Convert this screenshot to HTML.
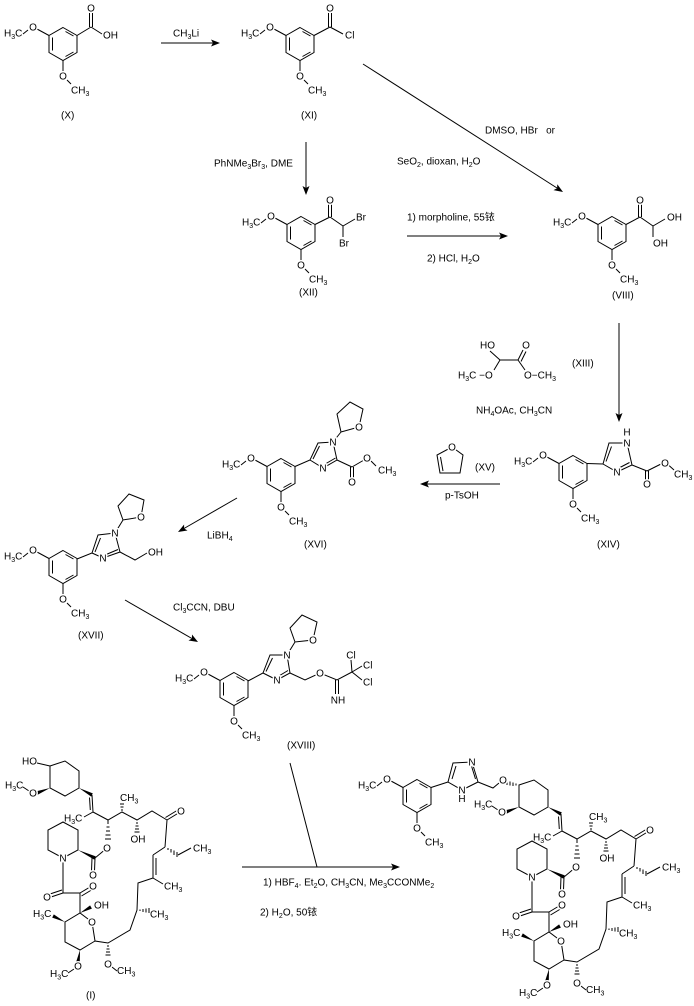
<!DOCTYPE html>
<html><head><meta charset="utf-8"><style>
html,body{margin:0;padding:0;background:#fff}
svg{display:block}
.l{stroke:#000;stroke-width:1;fill:none}
.f{fill:#000;stroke:none}
.w{fill:#fff;stroke:none}
text{font-family:"Liberation Sans","Noto Sans CJK SC",Arial,sans-serif;font-size:10px;fill:#000;stroke:none}
.a{text-anchor:middle;stroke:#fff;stroke-width:3px;paint-order:stroke;stroke-linejoin:round}
.s{font-size:7px}
</style></head><body>
<svg width="694" height="1006" viewBox="0 0 694 1006" xmlns="http://www.w3.org/2000/svg">
<rect width="694" height="1006" fill="#fff"/>

<!-- ===== X ===== -->
<g transform="translate(63,44)">
<path class="l" d="M0,-16.5L14,-8.5L14,8.5L0,16.5L-14,8.5L-14,-8.5Z M-10.5,-6.5V6.5 M2.5,-12.5L10.5,-8 M10.5,8L2.5,12.5 M-14,-8.5L-26,-15 M0,16.5V28 M4,36L8,40 M-35,-14L-40,-10"/>
<text class="a" x="-30" y="-13.4">O</text>
<text x="-59" y="-7.4">H<tspan class="s" dy="2.5">3</tspan><tspan dy="-2.5">C</tspan></text>
<text class="a" x="0" y="35.6">O</text>
<text x="8" y="49.6">CH<tspan class="s" dy="2.5">3</tspan></text>
</g>
<path class="l" d="M77,35.5L91,27 M89.5,27V13 M92.5,27V13 M91,27L102,34"/>
<text class="a" x="91" y="11.6">O</text>
<text x="103" y="38.6">OH</text>
<text x="61" y="118.6">(X)</text>

<!-- arrow X->XI -->
<path class="l" d="M161,43H214"/>
<polygon class="f" points="220,43 211,39.5 213,43 211,46.5"/>
<text x="173" y="36.6">CH<tspan class="s" dy="2.5">3</tspan><tspan dy="-2.5">Li</tspan></text>

<!-- ===== XI ===== -->
<g transform="translate(300,44)">
<path class="l" d="M0,-16.5L14,-8.5L14,8.5L0,16.5L-14,8.5L-14,-8.5Z M-10.5,-6.5V6.5 M2.5,-12.5L10.5,-8 M10.5,8L2.5,12.5 M-14,-8.5L-26,-15 M0,16.5V28 M4,36L8,40 M-35,-14L-40,-10"/>
<text class="a" x="-30" y="-13.4">O</text>
<text x="-59" y="-7.4">H<tspan class="s" dy="2.5">3</tspan><tspan dy="-2.5">C</tspan></text>
<text class="a" x="0" y="35.6">O</text>
<text x="8" y="49.6">CH<tspan class="s" dy="2.5">3</tspan></text>
</g>
<path class="l" d="M314,35.5L330,27 M328.5,27V13 M331.5,27V13 M330,27L343,34"/>
<text class="a" x="330" y="11.6">O</text>
<text x="345" y="38.6">Cl</text>
<text x="301" y="118.6">(XI)</text>

<!-- diagonal arrow XI->VIII -->
<path class="l" d="M363,64L557,188"/>
<polygon class="f" points="563,192 553.5,190.1 557.1,188.2 557.3,184.2"/>
<text x="485" y="133.6">DMSO, HBr&#160;&#160;&#160;or</text>
<text x="397" y="164.6">SeO<tspan class="s" dy="2.5">2</tspan><tspan dy="-2.5">, dioxan, H</tspan><tspan class="s" dy="2.5">2</tspan><tspan dy="-2.5">O</tspan></text>

<!-- vertical arrow XI->XII -->
<path class="l" d="M306,142V188"/>
<polygon class="f" points="306,195 302.5,186 306,188 309.5,186"/>
<text x="214" y="166.6">PhNMe<tspan class="s" dy="2.5">3</tspan><tspan dy="-2.5">Br</tspan><tspan class="s" dy="2.5">3</tspan><tspan dy="-2.5">, DME</tspan></text>

<!-- ===== XII ===== -->
<g transform="translate(301,233)">
<path class="l" d="M0,-16.5L14,-8.5L14,8.5L0,16.5L-14,8.5L-14,-8.5Z M-10.5,-6.5V6.5 M2.5,-12.5L10.5,-8 M10.5,8L2.5,12.5 M-14,-8.5L-26,-15 M0,16.5V28 M4,36L8,40 M-35,-14L-40,-10"/>
<text class="a" x="-30" y="-13.4">O</text>
<text x="-59" y="-7.4">H<tspan class="s" dy="2.5">3</tspan><tspan dy="-2.5">C</tspan></text>
<text class="a" x="0" y="35.6">O</text>
<text x="8" y="49.6">CH<tspan class="s" dy="2.5">3</tspan></text>
</g>
<path class="l" d="M315,224.5L330,217 M328.5,217V203 M331.5,217V203 M330,217L343,226 M343,226L355,219 M343,226V237"/>
<text class="a" x="330" y="203.6">O</text>
<text x="356" y="220.6">Br</text>
<text x="339" y="246.6">Br</text>
<text x="299" y="295.6">(XII)</text>

<!-- arrow XII->VIII -->
<path class="l" d="M407,236H502"/>
<polygon class="f" points="508,236 499,232.5 501,236 499,239.5"/>
<text x="407" y="220.6">1) morpholine, 55铱</text>
<text x="427" y="261.6">2) HCl, H<tspan class="s" dy="2.5">2</tspan><tspan dy="-2.5">O</tspan></text>

<!-- ===== VIII ===== -->
<g transform="translate(612,233)">
<path class="l" d="M0,-16.5L14,-8.5L14,8.5L0,16.5L-14,8.5L-14,-8.5Z M-10.5,-6.5V6.5 M2.5,-12.5L10.5,-8 M10.5,8L2.5,12.5 M-14,-8.5L-26,-15 M0,16.5V28 M4,36L8,40 M-35,-14L-40,-10"/>
<text class="a" x="-30" y="-13.4">O</text>
<text x="-59" y="-7.4">H<tspan class="s" dy="2.5">3</tspan><tspan dy="-2.5">C</tspan></text>
<text class="a" x="0" y="35.6">O</text>
<text x="8" y="49.6">CH<tspan class="s" dy="2.5">3</tspan></text>
</g>
<path class="l" d="M626,224.5L640,217 M638.5,217V203 M641.5,217V203 M640,217L653,226 M653,226L665,219 M653,226V237"/>
<text class="a" x="640" y="203.6">O</text>
<text x="667" y="220.6">OH</text>
<text x="653" y="246.6">OH</text>
<text x="612" y="298.6">(VIII)</text>

<!-- arrow VIII->XIV -->
<path class="l" d="M619,323V415"/>
<polygon class="f" points="619,422 615.5,413 619,415 622.5,413"/>

<!-- XIII -->
<path class="l" d="M490,351L500,360L518,360 M518,360L523,350 M521,361.5L526,351.5 M500,360L494,370 M518,360L525,370"/>
<text x="480" y="348.6">HO</text>
<text class="a" x="526" y="348.6">O</text>
<text x="458" y="378.6">H<tspan class="s" dy="2.5">3</tspan><tspan dy="-2.5">C −O</tspan></text>
<text x="524" y="378.6">O−CH<tspan class="s" dy="2.5">3</tspan></text>
<text x="572" y="366.6">(XIII)</text>
<text x="476" y="413.6">NH<tspan class="s" dy="2.5">4</tspan><tspan dy="-2.5">OAc, CH</tspan><tspan class="s" dy="2.5">3</tspan><tspan dy="-2.5">CN</tspan></text>

<!-- ===== XIV ===== -->
<g transform="translate(573,472)">
<path class="l" d="M0,-16.5L14,-8.5L14,8.5L0,16.5L-14,8.5L-14,-8.5Z M-10.5,-6.5V6.5 M2.5,-12.5L10.5,-8 M10.5,8L2.5,12.5 M-14,-8.5L-26,-15 M0,16.5V28 M4,36L8,40 M-35,-14L-40,-10"/>
<text class="a" x="-30" y="-13.4">O</text>
<text x="-59" y="-7.4">H<tspan class="s" dy="2.5">3</tspan><tspan dy="-2.5">C</tspan></text>
<text class="a" x="0" y="35.6">O</text>
<text x="8" y="49.6">CH<tspan class="s" dy="2.5">3</tspan></text>
</g>
<path class="l" d="M587,463.5L603,464L609,443L627,443L632,465L617,472L603,464 M606,461.5L611.5,446.5 M629.5,462.5L619,468 M632,465L647,471 M645.5,471V481 M648.5,471V481 M647,471L661,464 M669,465.5L674,470"/>
<circle class="w" cx="627" cy="443" r="4.5"/>
<circle class="w" cx="617" cy="472" r="4.5"/>
<text class="a" x="627" y="446.6">N</text>
<text class="a" x="627" y="435.6">H</text>
<text class="a" x="617" y="475.6">N</text>
<text class="a" x="647" y="487.6">O</text>
<text class="a" x="665" y="466.6">O</text>
<text x="674" y="477.6">CH<tspan class="s" dy="2.5">3</tspan></text>
<text x="597" y="547.6">(XIV)</text>

<!-- arrow XIV->XVI -->
<path class="l" d="M427,484H500"/>
<polygon class="f" points="420,484 429,480.5 427,484 429,487.5"/>
<text x="445" y="498.6">p-TsOH</text>
<!-- XV -->
<path class="l" d="M452,447L463,455L460,473L440,473L437,455Z M440.5,457L443,471"/>
<circle class="w" cx="452" cy="447" r="4.5"/>
<text class="a" x="452" y="450.6">O</text>
<text x="475" y="470.6">(XV)</text>

<!-- ===== XVI ===== -->
<g transform="translate(281,475)">
<path class="l" d="M0,-16.5L14,-8.5L14,8.5L0,16.5L-14,8.5L-14,-8.5Z M-10.5,-6.5V6.5 M2.5,-12.5L10.5,-8 M10.5,8L2.5,12.5 M-14,-8.5L-26,-15 M0,16.5V28 M4,36L8,40 M-35,-14L-40,-10"/>
<text class="a" x="-30" y="-13.4">O</text>
<text x="-59" y="-7.4">H<tspan class="s" dy="2.5">3</tspan><tspan dy="-2.5">C</tspan></text>
<text class="a" x="0" y="35.6">O</text>
<text x="8" y="49.6">CH<tspan class="s" dy="2.5">3</tspan></text>
</g>
<path class="l" d="M295,466.5L310,460L318,443L333,442L337,460L323,468L310,460 M313,459L319.5,446 M335.5,458L323.5,465 M333,442L341,432 M341,432L337,414L350,402L363,409L359,427Z M337,460L352,467 M350.5,467V479 M353.5,467V479 M352,467L364,460 M371,461L376,466"/>
<circle class="w" cx="333" cy="442" r="4.5"/>
<circle class="w" cx="323" cy="468" r="4.5"/>
<circle class="w" cx="359" cy="427" r="4.5"/>
<text class="a" x="333" y="445.6">N</text>
<text class="a" x="323" y="471.6">N</text>
<text class="a" x="359" y="430.6">O</text>
<text class="a" x="352" y="485.6">O</text>
<text class="a" x="367" y="461.6">O</text>
<text x="378" y="473.6">CH<tspan class="s" dy="2.5">3</tspan></text>
<text x="304" y="547.6">(XVI)</text>

<!-- arrow XVI->XVII -->
<path class="l" d="M237,498L184,528.5"/>
<polygon class="f" points="178,532 187.5,530.5 184.1,528.5 184.1,524.5"/>
<text x="207" y="538.6">LiBH<tspan class="s" dy="2.5">4</tspan></text>

<!-- ===== XVII ===== -->
<g transform="translate(63,567)">
<path class="l" d="M0,-16.5L14,-8.5L14,8.5L0,16.5L-14,8.5L-14,-8.5Z M-10.5,-6.5V6.5 M2.5,-12.5L10.5,-8 M10.5,8L2.5,12.5 M-14,-8.5L-26,-15 M0,16.5V28 M4,36L8,40 M-35,-14L-40,-10"/>
<text class="a" x="-30" y="-13.4">O</text>
<text x="-59" y="-7.4">H<tspan class="s" dy="2.5">3</tspan><tspan dy="-2.5">C</tspan></text>
<text class="a" x="0" y="35.6">O</text>
<text x="8" y="49.6">CH<tspan class="s" dy="2.5">3</tspan></text>
</g>
<path class="l" d="M77,559L92,553L98,535L115,533L120,552L103,558L92,553 M95,552L100.5,538 M118,549.5L105,555 M115,533L123,520 M123,520L118,506L129,494L144,500L141,517Z M120,552L135,560L147,553"/>
<circle class="w" cx="115" cy="533" r="4.5"/>
<circle class="w" cx="103" cy="558" r="4.5"/>
<circle class="w" cx="141" cy="517" r="4.5"/>
<text class="a" x="115" y="536.6">N</text>
<text class="a" x="103" y="561.6">N</text>
<text class="a" x="141" y="520.6">O</text>
<text x="148" y="555.6">OH</text>
<text x="78" y="638.6">(XVII)</text>

<!-- arrow XVII->XVIII -->
<path class="l" d="M125,600L191.9,638.5"/>
<polygon class="f" points="198,642 188.5,640.5 191.9,638.5 192,634.5"/>
<text x="173" y="610.6">Cl<tspan class="s" dy="2.5">3</tspan><tspan dy="-2.5">CCN, DBU</tspan></text>

<!-- ===== XVIII ===== -->
<g transform="translate(234,689)">
<path class="l" d="M0,-16.5L14,-8.5L14,8.5L0,16.5L-14,8.5L-14,-8.5Z M-10.5,-6.5V6.5 M2.5,-12.5L10.5,-8 M10.5,8L2.5,12.5 M-14,-8.5L-26,-15 M0,16.5V28 M4,36L8,40 M-35,-14L-40,-10"/>
<text class="a" x="-30" y="-13.4">O</text>
<text x="-59" y="-7.4">H<tspan class="s" dy="2.5">3</tspan><tspan dy="-2.5">C</tspan></text>
<text class="a" x="0" y="35.6">O</text>
<text x="8" y="49.6">CH<tspan class="s" dy="2.5">3</tspan></text>
</g>
<path class="l" d="M248,681L263,673L270,655L287,655L290,673L277,680L263,673 M266,671.5L272.5,658 M288,670.5L278,676.5 M287,655L295,642 M295,642L290,628L302,615L317,622L313,640Z M290,673L305,680L320,673L337,680L352,672 M335.5,680V694 M338.5,680V694 M352,672L351,660 M352,672L362,666 M352,672L362,680"/>
<circle class="w" cx="287" cy="655" r="4.5"/>
<circle class="w" cx="277" cy="680" r="4.5"/>
<circle class="w" cx="313" cy="640" r="4.5"/>
<circle class="w" cx="320" cy="673" r="4.5"/>
<text class="a" x="287" y="658.6">N</text>
<text class="a" x="277" y="683.6">N</text>
<text class="a" x="313" y="643.6">O</text>
<text class="a" x="320" y="676.6">O</text>
<text class="a" x="338" y="703.6">NH</text>
<text class="a" x="351" y="658.6">Cl</text>
<text x="363" y="668.6">Cl</text>
<text x="363" y="685.6">Cl</text>
<text x="287" y="748.6">(XVIII)</text>

<!-- final reaction -->
<path class="l" d="M290,763L317,867 M242,867H393"/>
<polygon class="f" points="400,867 391,863.5 393,867 391,870.5"/>
<text x="263" y="885.6">1) HBF<tspan class="s" dy="2.5">4</tspan><tspan dy="-2.5">. Et</tspan><tspan class="s" dy="2.5">2</tspan><tspan dy="-2.5">O, CH</tspan><tspan class="s" dy="2.5">3</tspan><tspan dy="-2.5">CN, Me</tspan><tspan class="s" dy="2.5">3</tspan><tspan dy="-2.5">CCONMe</tspan><tspan class="s" dy="2.5">2</tspan></text>
<text x="260" y="915.6">2) H<tspan class="s" dy="2.5">2</tspan><tspan dy="-2.5">O, 50铱</tspan></text>

<!-- ===== (I) ===== -->
<g>
<path class="l" d="M37,763L50,766"/>
<text x="22" y="764.6">HO</text>
<text x="86" y="998.6">(I)</text>
</g>
<g>
<path class="l" d="M50,766L65,761L79,771L79,788L65,796L50,788Z M92,795L93,812 M89.5,797.5L90.3,810 M93,812L84,817 M93,812L108,820L122,812L137,820L152,811L167,820 M167,820L178.5,813 M165.5,817.5L177,810.5 M167,820L165,847 M178,855L191,848 M165,847L153,855 M153,855V878 M156,858V875 M153,878L163,884 M153,878L138,883L137,910L130,930L108,943L95,941L92,922 M95,941L80,950L65,942V922L80,913L92,922 M80,913V893 M80,893L90,887 M81.5,896L91.5,890 M80,893H63 M63,893L51,897 M62,890L50,894 M63,893V858 M63,858L48,850V830L63,822L78,830V850L63,858 M95,858L94.5,871 M92,858L91.5,871 M95,858L107,848 M112,967L117,971 M74,969L68,973 M23,787L29,791 M108,820L108,822"/>
<path class="l" d="M107,823h2 M106.5,827h3 M106,831h4 M105.5,835h5 M105,839h6 M121,810h2 M120.5,807h3 M120,804h4 M136,823h2 M135.5,826h3 M135,829h4 M134.5,832h5 M168,848v2 M171,849v3.5 M174,850.5v4.5 M177,852v5 M140,909.5v1.5 M143,909v3 M146,908.5v4 M149,908v5 M107,946h2 M106.5,949h3 M106,952h4 M105.5,955h5"/>
<polygon class="f" points="50,788 37.6,794.7 36.4,791.3"/>
<polygon class="f" points="79,788 91.2,796.6 92.8,793.4"/>
<polygon class="f" points="78,850 94.2,859.6 95.8,856.4"/>
<polygon class="f" points="80,950 79.8,962.3 76.2,961.7"/>
<polygon class="f" points="65,922 52.2,917.6 53.8,914.4"/>
<polygon class="f" points="80,913 91.9,908.6 90.1,905.4"/>
<circle class="w" cx="107" cy="848" r="4.5"/>
<circle class="w" cx="92" cy="922" r="4.5"/>
<circle class="w" cx="63" cy="858" r="4.5"/>
<text class="a" x="33" y="796.6">O</text>
<text x="5" y="788.6">H<tspan class="s" dy="2.5">3</tspan><tspan dy="-2.5">C</tspan></text>
<text x="64" y="821.6">H<tspan class="s" dy="2.5">3</tspan><tspan dy="-2.5">C</tspan></text>
<text class="a" x="107" y="851.6">O</text>
<text x="120" y="801">CH<tspan class="s" dy="2.5">3</tspan></text>
<text class="a" x="138" y="842.6">OH</text>
<text class="a" x="181" y="814.6">O</text>
<text x="193" y="851.6">CH<tspan class="s" dy="2.5">3</tspan></text>
<text x="164" y="889.6">CH<tspan class="s" dy="2.5">3</tspan></text>
<text x="150" y="917.6">CH<tspan class="s" dy="2.5">3</tspan></text>
<text class="a" x="108" y="967.6">O</text>
<text x="117" y="974">CH<tspan class="s" dy="2.5">3</tspan></text>
<text class="a" x="92" y="925.6">O</text>
<text class="a" x="78" y="969.6">O</text>
<text x="50" y="977">H<tspan class="s" dy="2.5">3</tspan><tspan dy="-2.5">C</tspan></text>
<text x="33" y="917">H<tspan class="s" dy="2.5">3</tspan><tspan dy="-2.5">C</tspan></text>
<text x="94" y="908.6">OH</text>
<text class="a" x="93" y="889.6">O</text>
<text class="a" x="47" y="900.6">O</text>
<text class="a" x="63" y="861.6">N</text>
<text class="a" x="93" y="878.6">O</text>
</g>

<!-- ===== Product macrocycle (translated copy) ===== -->
<g transform="translate(469,19)">
<path class="l" d="M50,766L65,761L79,771L79,788L65,796L50,788Z M92,795L93,812 M89.5,797.5L90.3,810 M93,812L84,817 M93,812L108,820L122,812L137,820L152,811L167,820 M167,820L178.5,813 M165.5,817.5L177,810.5 M167,820L165,847 M178,855L191,848 M165,847L153,855 M153,855V878 M156,858V875 M153,878L163,884 M153,878L138,883L137,910L130,930L108,943L95,941L92,922 M95,941L80,950L65,942V922L80,913L92,922 M80,913V893 M80,893L90,887 M81.5,896L91.5,890 M80,893H63 M63,893L51,897 M62,890L50,894 M63,893V858 M63,858L48,850V830L63,822L78,830V850L63,858 M95,858L94.5,871 M92,858L91.5,871 M95,858L107,848 M112,967L117,971 M74,969L68,973 M23,787L29,791 M108,820L108,822"/>
<path class="l" d="M107,823h2 M106.5,827h3 M106,831h4 M105.5,835h5 M105,839h6 M121,810h2 M120.5,807h3 M120,804h4 M136,823h2 M135.5,826h3 M135,829h4 M134.5,832h5 M168,848v2 M171,849v3.5 M174,850.5v4.5 M177,852v5 M140,909.5v1.5 M143,909v3 M146,908.5v4 M149,908v5 M107,946h2 M106.5,949h3 M106,952h4 M105.5,955h5"/>
<polygon class="f" points="50,788 37.6,794.7 36.4,791.3"/>
<polygon class="f" points="79,788 91.2,796.6 92.8,793.4"/>
<polygon class="f" points="78,850 94.2,859.6 95.8,856.4"/>
<polygon class="f" points="80,950 79.8,962.3 76.2,961.7"/>
<polygon class="f" points="65,922 52.2,917.6 53.8,914.4"/>
<polygon class="f" points="80,913 91.9,908.6 90.1,905.4"/>
<circle class="w" cx="107" cy="848" r="4.5"/>
<circle class="w" cx="92" cy="922" r="4.5"/>
<circle class="w" cx="63" cy="858" r="4.5"/>
<text class="a" x="33" y="796.6">O</text>
<text x="5" y="788.6">H<tspan class="s" dy="2.5">3</tspan><tspan dy="-2.5">C</tspan></text>
<text x="64" y="821.6">H<tspan class="s" dy="2.5">3</tspan><tspan dy="-2.5">C</tspan></text>
<text class="a" x="107" y="851.6">O</text>
<text x="120" y="801">CH<tspan class="s" dy="2.5">3</tspan></text>
<text class="a" x="138" y="842.6">OH</text>
<text class="a" x="181" y="814.6">O</text>
<text x="193" y="851.6">CH<tspan class="s" dy="2.5">3</tspan></text>
<text x="164" y="889.6">CH<tspan class="s" dy="2.5">3</tspan></text>
<text x="150" y="917.6">CH<tspan class="s" dy="2.5">3</tspan></text>
<text class="a" x="108" y="967.6">O</text>
<text x="117" y="974">CH<tspan class="s" dy="2.5">3</tspan></text>
<text class="a" x="92" y="925.6">O</text>
<text class="a" x="78" y="969.6">O</text>
<text x="50" y="977">H<tspan class="s" dy="2.5">3</tspan><tspan dy="-2.5">C</tspan></text>
<text x="33" y="917">H<tspan class="s" dy="2.5">3</tspan><tspan dy="-2.5">C</tspan></text>
<text x="94" y="908.6">OH</text>
<text class="a" x="93" y="889.6">O</text>
<text class="a" x="47" y="900.6">O</text>
<text class="a" x="63" y="861.6">N</text>
<text class="a" x="93" y="878.6">O</text>
</g>

<!-- product side chain -->
<path class="l" d="M516,783.5v2 M513,782.5v3.5 M510,781.5v4 M507,780.5v4.5 M499,783L493,788L478,782 M478,782L472,762L453,763L448,782L462,790L478,782 M475.5,779L471.5,766 M456,766L452,779 M448,782L431,787.5"/>
<circle class="w" cx="472" cy="762" r="4.5"/>
<circle class="w" cx="462" cy="790" r="4.5"/>
<text class="a" x="503" y="783.6">O</text>
<text class="a" x="472" y="765.6">N</text>
<text class="a" x="462" y="793.6">N</text>
<text class="a" x="462" y="802">H</text>
<g transform="translate(417,796)">
<path class="l" d="M0,-16.5L14,-8.5L14,8.5L0,16.5L-14,8.5L-14,-8.5Z M-10.5,-6.5V6.5 M2.5,-12.5L10.5,-8 M10.5,8L2.5,12.5 M-14,-8.5L-26,-15 M0,16.5V28 M4,36L8,40 M-35,-14L-40,-10"/>
<text class="a" x="-30" y="-13.4">O</text>
<text x="-59" y="-7.4">H<tspan class="s" dy="2.5">3</tspan><tspan dy="-2.5">C</tspan></text>
<text class="a" x="0" y="35.6">O</text>
<text x="8" y="49.6">CH<tspan class="s" dy="2.5">3</tspan></text>
</g>
</svg>
</body></html>
